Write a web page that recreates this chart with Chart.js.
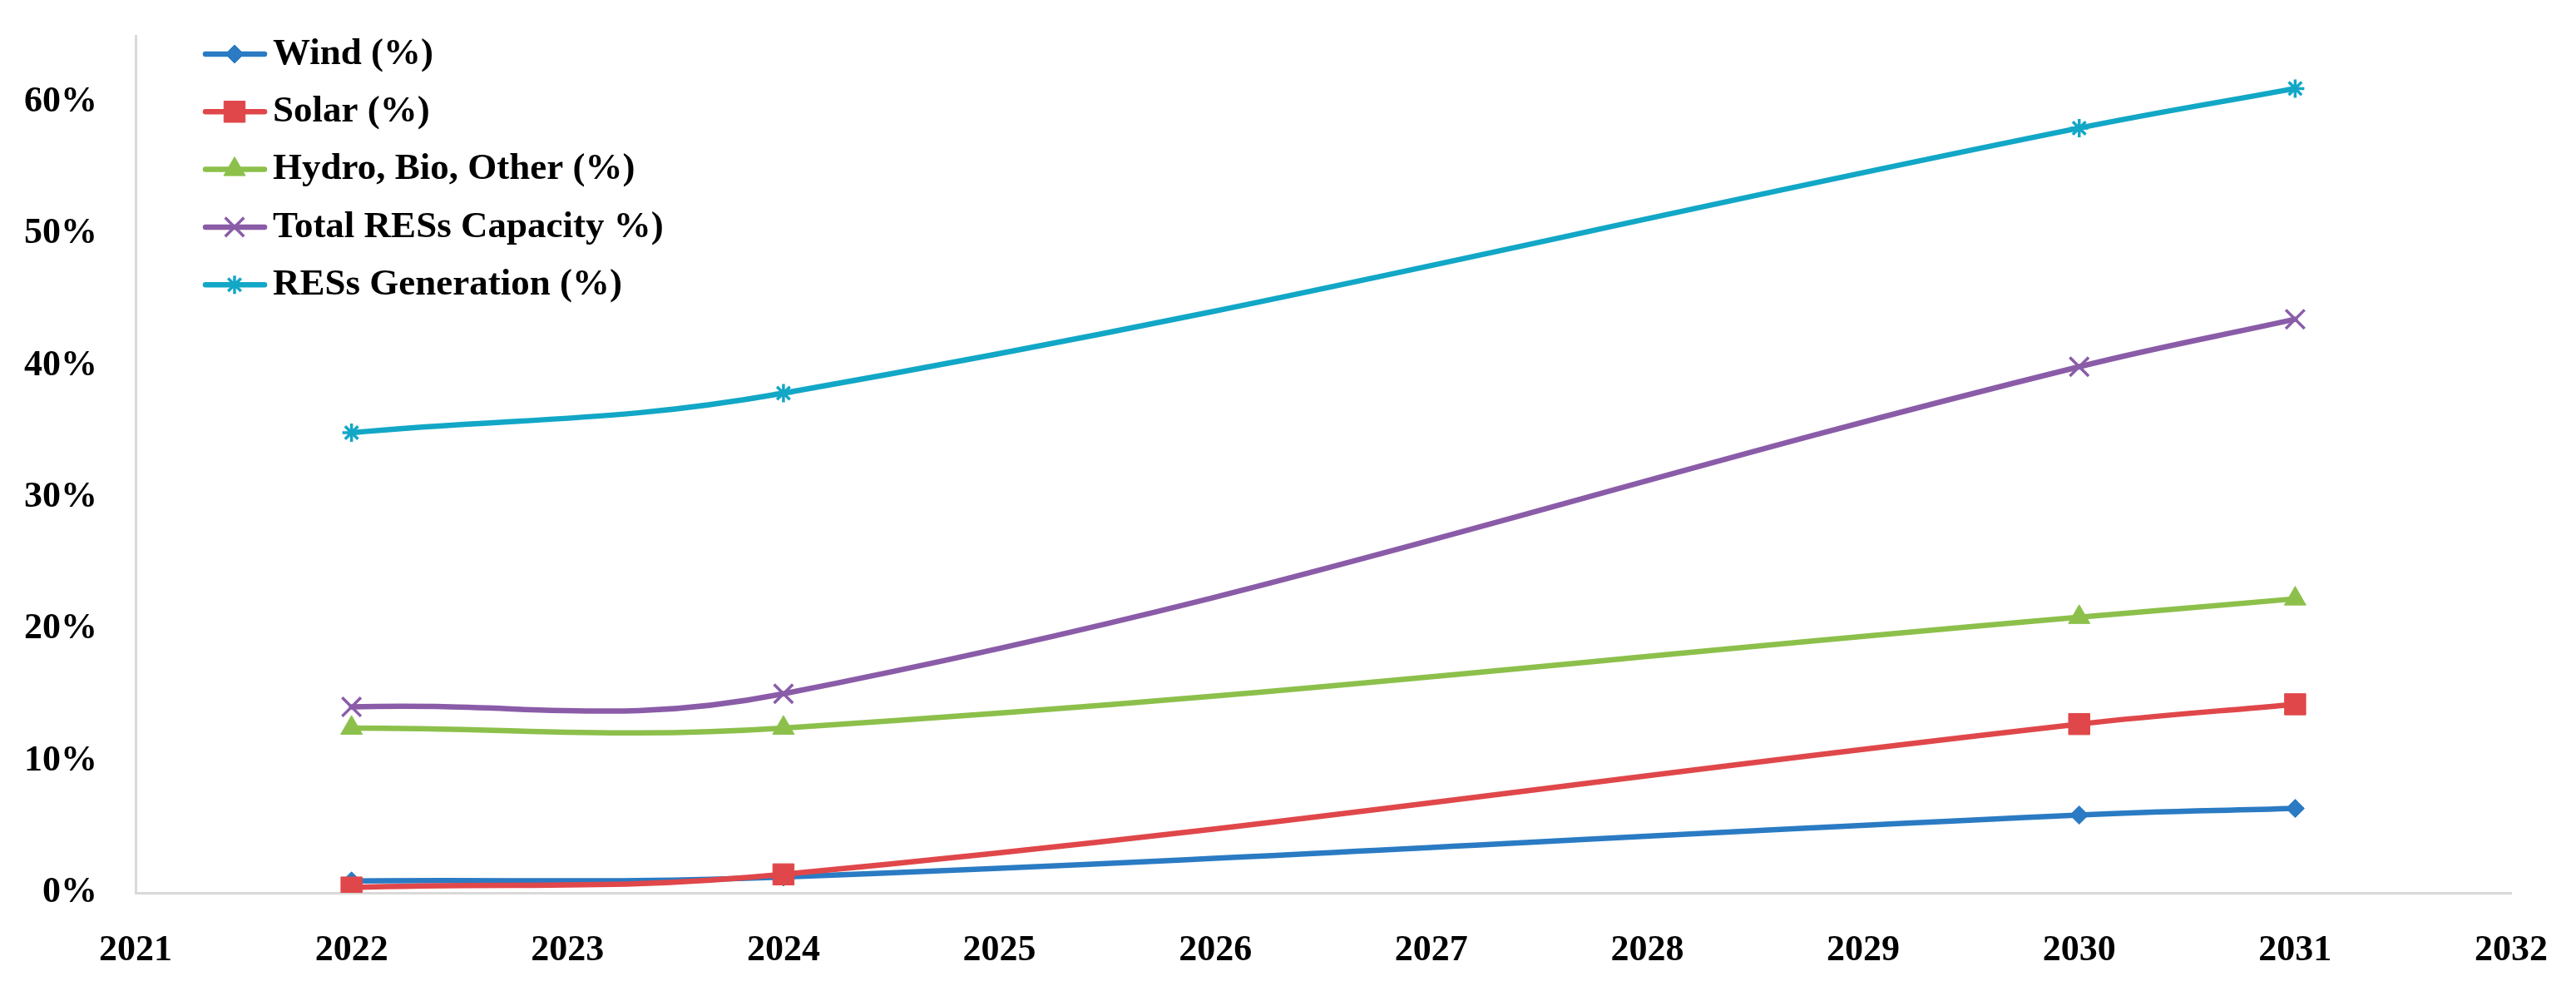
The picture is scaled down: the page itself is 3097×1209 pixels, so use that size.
<!DOCTYPE html>
<html>
<head>
<meta charset="utf-8">
<script src="https://cdn.jsdelivr.net/npm/chart.js@4.4.1/dist/chart.umd.min.js"></script>
<style>
  html, body { margin: 0; padding: 0; background: #fff; }
  #wrap { width: 3097px; height: 1209px; }
</style>
</head>
<body>
<div id="wrap"><canvas id="resChart"></canvas></div>
<script>
// values (percent)
const years = [2022, 2024, 2030, 2031];
const wind = [0.9, 1.2, 5.9, 6.4];
const solar = [0.4, 1.4, 12.8, 14.3];
const hydro = [12.5, 12.5, 20.9, 22.3];
const totalCapacity = [14.1, 15.1, 39.9, 43.5];
const generation = [34.9, 37.9, 58.0, 61.0];
const seriesNames = ['Wind (%)', 'Solar (%)', 'Hydro, Bio, Other (%)', 'Total RESs Capacity %)', 'RESs Generation (%)'];
const yearRange = [2021, 2032];
const yTicks = [0, 10, 20, 30, 40, 50, 60];

const seriesValues = [wind, solar, hydro, totalCapacity, generation];
const colors = ['#2a7bc3', '#e0474a', '#8cc04b', '#8a5ca8', '#12a7c6'];
const markers = ['rectRot', 'rect', 'triangle', 'crossRot', 'star'];
const markerSize = [11, 18, 15, 16, 11];
const markerBorder = [1, 1, 1, 3.5, 3.5];
const FONT = "'Liberation Serif', 'DejaVu Serif', serif";

// legend drawn in the top-left corner of the plot, Excel style (line + marker)
const cornerLegend = {
    id: 'cornerLegend',
    afterDraw(chart) {
        const c = chart.ctx;
        c.save();
        chart.data.datasets.forEach((ds, i) => {
            const y = 65 + i * 69.3;
            c.strokeStyle = ds.borderColor;
            c.fillStyle = ds.borderColor;
            c.lineWidth = 6.5;
            c.lineCap = 'round';
            c.beginPath();
            c.moveTo(247, y);
            c.lineTo(318, y);
            c.stroke();
            c.lineWidth = ds.pointBorderWidth;
            c.lineCap = 'butt';
            Chart.helpers.drawPoint(c, {
                pointStyle: ds.pointStyle, radius: ds.pointRadius, rotation: 0, borderWidth: ds.pointBorderWidth
            }, 282, y);
            c.fillStyle = '#000';
            c.font = 'bold 45px ' + FONT;
            c.textAlign = 'left';
            c.textBaseline = 'middle';
            c.fillText(ds.label, 328, y);
        });
        c.restore();
    }
};

const ctx = document.getElementById('resChart').getContext('2d');
new Chart(ctx, {
    type: 'line',
    data: {
        datasets: seriesNames.map((name, i) => ({
            label: name,
            data: years.map((yr, j) => ({ x: yr, y: seriesValues[i][j] })),
            borderColor: colors[i],
            backgroundColor: colors[i],
            borderWidth: 6.5,
            borderCapStyle: 'round',
            borderJoinStyle: 'round',
            tension: 0.4,
            pointStyle: markers[i],
            pointRadius: markerSize[i],
            pointHoverRadius: markerSize[i],
            pointBorderWidth: markerBorder[i],
            pointBackgroundColor: colors[i],
            pointBorderColor: colors[i],
            order: seriesNames.length - i
        }))
    },
    options: {
        responsive: true,
        maintainAspectRatio: false,
        animation: false,
        devicePixelRatio: 1,
        layout: { padding: { top: 43, right: 78, left: 0, bottom: 0 } },
        plugins: {
            tooltip: { enabled: false },
            legend: { display: false }
        },
        scales: {
            x: {
                type: 'linear',
                min: yearRange[0],
                max: yearRange[1],
                grid: { display: false, drawTicks: false },
                border: { display: true, color: '#d9d9d9', width: 3 },
                ticks: {
                    stepSize: 1,
                    padding: 43,
                    color: '#000',
                    font: { family: FONT, size: 44, weight: 'bold' },
                    callback: (v) => String(v)
                },
                afterFit: (scale) => {
                    scale.height = 136;
                    scale.paddingLeft = 0;
                    scale.paddingRight = 0;
                }
            },
            y: {
                min: 0,
                max: 65,
                grid: { display: false, drawTicks: false },
                border: { display: true, color: '#d9d9d9', width: 3 },
                afterBuildTicks: (scale) => {
                    scale.ticks = yTicks.map(v => ({ value: v }));
                },
                ticks: {
                    padding: 46,
                    color: '#000',
                    font: { family: FONT, size: 44, weight: 'bold' },
                    callback: (v) => v + '%'
                },
                afterFit: (scale) => {
                    scale.width = 163;
                    scale.paddingTop = 0;
                    scale.paddingBottom = 0;
                }
            }
        }
    },
    plugins: [cornerLegend]
});
</script>
</body>
</html>
